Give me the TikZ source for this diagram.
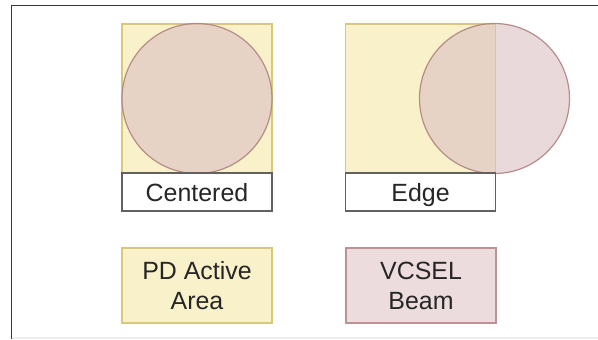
\documentclass[tikz,border=0pt]{standalone}
\usepackage{fontspec}
\setmainfont{Liberation Sans}
\begin{document}
\begin{tikzpicture}[x=0.75pt,y=-0.75pt,
  every node/.style={inner sep=0pt, outer sep=0pt},
  txt/.style={font=\fontsize{18.7}{22.5}\selectfont, text=black!85, align=center},
  area/.style={draw=pdline, fill=pdfill, line width=0.9pt,
    minimum width=112.5pt, minimum height=111.75pt},
  beam/.style={circle, draw=beamline, line width=0.9pt, fill=beamfill,
    fill opacity=0.6, draw opacity=0.9, minimum size=112.5pt},
  caption/.style={txt, draw=black!62, fill=white, line width=0.9pt,
    text height=14.5pt, text depth=0.5pt,
    minimum width=112.5pt, minimum height=28.5pt},
  legend/.style={txt, line width=0.9pt, minimum width=112.5pt, minimum height=56.25pt}
]
\definecolor{pdfill}{HTML}{F8F1CA}
\definecolor{pdline}{HTML}{D8C878}
\definecolor{beamfill}{HTML}{DCC0C3}
\definecolor{beamline}{HTML}{B08480}
\definecolor{vcfill}{HTML}{ECDCDD}
\definecolor{vcline}{HTML}{BE9294}

\useasboundingbox (0,0) rectangle (598,339);
\fill[white] (0,0) rectangle (598,339);

% page frame
\draw[black!78, line width=1.3pt] (11.5,339) -- (11.5,5.5) -- (598,5.5);
\draw[black!7, line width=0.8pt] (11.5,338) -- (598,338);

% centred beam on the photodiode
\node[area] (sqA) at (197,98.5) {};
\node[beam] (circA) at (197,98.5) {};
\node[caption, anchor=north] (labA) at (sqA.south) {Centered};

% beam at the photodiode edge
\node[area] (sqB) at (420.5,98.5) {};
\node[beam] (circB) at (494.5,98.5) {};
\node[caption, anchor=north] (labB) at (sqB.south) {Edge};

% legend
\node[legend, draw=pdline, fill=pdfill] (legPD) at (197,285.5) {PD Active\\Area};
\node[legend, draw=vcline, fill=vcfill] (legVC) at (421,285.5) {VCSEL\\Beam};
\end{tikzpicture}
\end{document}
